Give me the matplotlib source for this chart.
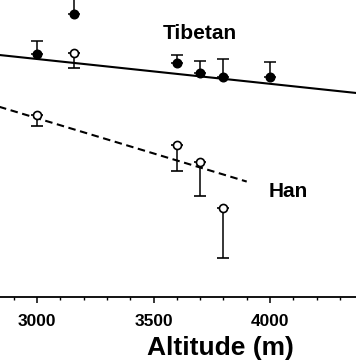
import matplotlib
matplotlib.use("Agg")
import matplotlib.pyplot as plt
import numpy as np

plt.rcParams["font.family"] = ["Liberation Sans", "DejaVu Sans"]
plt.rcParams["font.weight"] = "bold"

# Tibetan (filled): altitude (m), birth weight (g), upper error
tib_alt = [3000, 3160, 3600, 3700, 3800, 4000]
tib_val = [3230, 3430, 3185, 3135, 3115, 3115]
tib_err = [65, 110, 40, 60, 90, 75]

# Han (open): altitude (m), value, lower error
han_alt = [3000, 3160, 3600, 3700, 3800]
han_val = [2925, 3235, 2775, 2690, 2460]
han_err = [55, 75, 130, 170, 250]

# regression lines: value at 3000 m, slope per m, x extent
tib_fit = (3205, -0.124, 2800, 4400)
han_fit = (2909, -0.352, 2800, 3900)

fig = plt.figure(figsize=(3.56, 3.64), dpi=100)
ax = fig.add_axes([0.0, 0.184, 1.0, 0.816])

for (b0, b1, x0, x1), ls in ((tib_fit, "-"), (han_fit, (0, (3.6, 2.2)))):
    xs = np.array([x0, x1])
    ax.plot(xs, b0 + b1 * (xs - 3000), color="black", lw=1.5, ls=ls)

ax.errorbar(tib_alt, tib_val, yerr=[np.zeros(len(tib_err)), tib_err],
            fmt="o", color="black", ms=6.2, mfc="black", mec="black",
            elinewidth=1.1, capsize=4, capthick=1.1, zorder=3)
ax.errorbar(han_alt, han_val, yerr=[han_err, np.zeros(len(han_err))],
            fmt="o", color="black", ms=5.8, mfc="white", mec="black", mew=1.2,
            elinewidth=1.1, capsize=4, capthick=1.1, zorder=3)

ax.text(3700, 3335, "Tibetan", fontsize=15, fontweight="bold", ha="center", va="center")
ax.text(4077, 2545, "Han", fontsize=15, fontweight="bold", ha="center", va="center")

ax.set_xlim(2841, 4369)
ax.set_ylim(2015, 3500)
for s in ("left", "top", "right"):
    ax.spines[s].set_visible(False)
ax.spines["bottom"].set_linewidth(1.3)
ax.set_yticks([])
ax.set_xticks([3000, 3500, 4000])
ax.set_xticks(np.arange(2900, 4400, 100), minor=True)
ax.tick_params(axis="x", which="major", length=4.5, width=1.1, labelsize=12.5, pad=8)
ax.tick_params(axis="x", which="minor", length=2.5, width=1.0)
for lab in ax.get_xticklabels():
    lab.set_fontweight("bold")

fig.text(0.618, 0.044, "Altitude (m)", fontsize=19, fontweight="bold",
         ha="center", va="center")

fig.savefig("out.png", dpi=100)
